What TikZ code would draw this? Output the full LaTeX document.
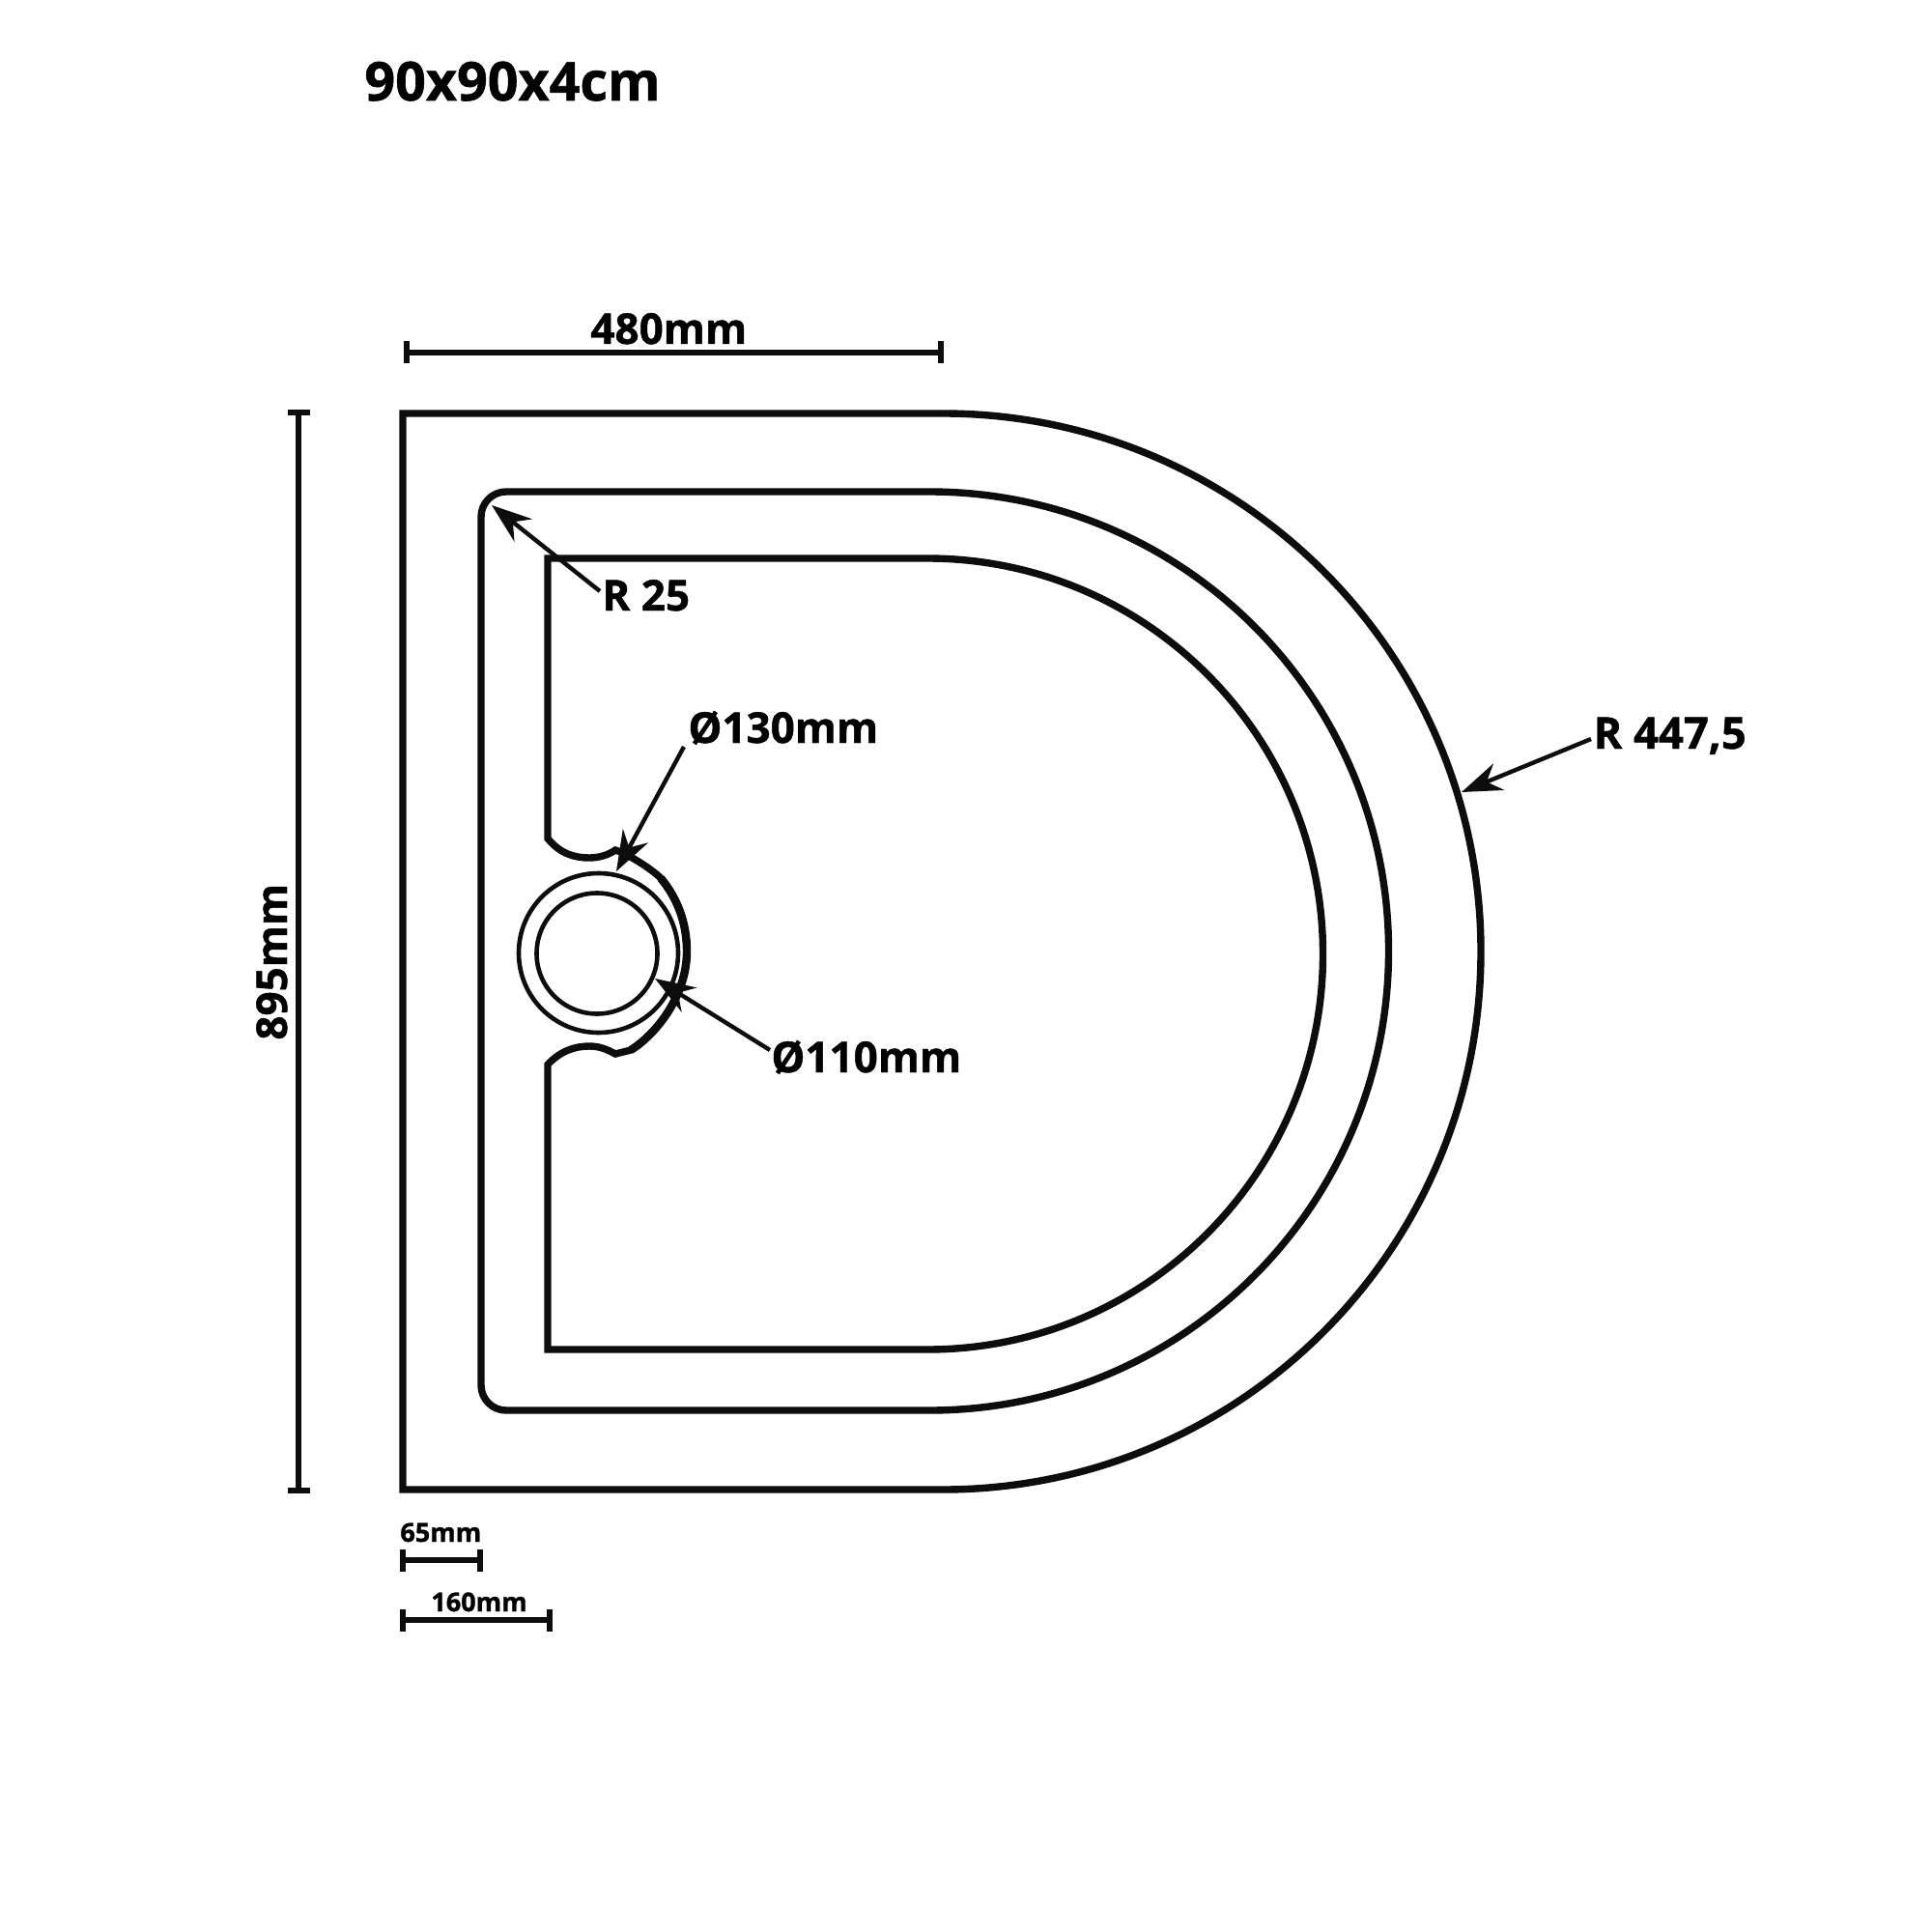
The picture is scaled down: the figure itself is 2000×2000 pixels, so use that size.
\documentclass[tikz,border=0pt]{standalone}
\usepackage{fontspec}
\setmainfont{Open Sans}[BoldFeatures={FakeBold=1}]
\usetikzlibrary{arrows.meta}
\definecolor{ink}{HTML}{0D0D0D}
\tikzset{
outline/.style={draw=ink, line width=3.7pt, miter limit=4},
ring/.style={draw=ink, line width=2.3pt},
dimline/.style={draw=ink, line width=2.6pt, {Bar[width=11.5pt,line width=3pt]}-{Bar[width=11.5pt,line width=3pt]}},
leader/.style={draw=ink, line width=2.2pt, -{Stealth[length=21pt,width=15pt,inset=7pt,line width=0pt]}},
biglabel/.style={inner sep=0pt, anchor=base west, font=\bfseries\fontsize{27.8pt}{30pt}\selectfont},
midlabel/.style={inner sep=0pt, anchor=base west, font=\bfseries\fontsize{22pt}{26pt}\selectfont},
smalllabel/.style={inner sep=0pt, anchor=base west, font=\bfseries\fontsize{13.5pt}{16pt}\selectfont}
}

\begin{document}
\begin{tikzpicture}[x=0.5pt, y=-0.5pt]
	\useasboundingbox (0,0) rectangle (2000,2000);
	\draw[outline] (976,428) -- (417,428) -- (417,1542) -- (976,1542)
		arc[start angle=90, end angle=-90, radius=557];
	\draw[outline] (962,509) [rounded corners=13pt] -- (498,509) -- (498,1460) [sharp corners] -- (962,1460)
		arc[start angle=90, end angle=-90, radius=475.5];
	\draw[outline] (960,578) -- (567,578) -- (567,868)
		.. controls (580,884) and (595,888) .. (610,888)
		.. controls (620,888) and (630,885) .. (637,880)
		.. controls (650,884) and (672,898) .. (683,908)
		.. controls (703,932) and (711,958) .. (711,985)
		.. controls (711,1030) and (680,1070) .. (653,1087)
		-- (637,1091)
		.. controls (628,1086) and (620,1083) .. (610,1083)
		.. controls (595,1083) and (580,1088) .. (567,1102)
		-- (567,1397) -- (960,1397)
		arc[start angle=90, end angle=-90, radius=409.5];
	\draw[outline, line width=4.2pt] (684,909)
		.. controls (703,932) and (711,958) .. (711,985)
		.. controls (711,1030) and (680,1070) .. (653,1087);
	\draw[ring] (619.5,986.5) circle[radius=82.5];
	\draw[ring] (618,987) circle[radius=62.5];

	\node[biglabel] (title) at (377,104) {90x90x4cm};
	\node[midlabel] (widthlabel) at (611,356) {480mm};
	\node[midlabel, rotate=90] (heightlabel) at (297,1077) {895mm};
	\node[midlabel] (cornerlabel) at (623,632) {R 25};
	\node[midlabel, scale=1.03] (outerlabel) at (1649,775) {R 447,5};
	\node[midlabel] (rimlabel) at (712,769) {Ø130mm};
	\node[midlabel] (drainlabel) at (798,1110) {Ø110mm};
	\node[smalllabel] (borderlabel) at (414,1596) {65mm};
	\node[smalllabel] (traylabel) at (446,1668) {160mm};

	\coordinate (widthleft) at (418,365);
	\coordinate (widthright) at (977,365);
	\coordinate (heighttop) at (309,424);
	\coordinate (heightbottom) at (309,1546);
	\coordinate (borderleft) at (414,1615);
	\coordinate (borderright) at (500,1615);
	\coordinate (trayleft) at (414,1677);
	\coordinate (trayright) at (572,1677);
	\draw[dimline] (widthleft) -- (widthright);
	\draw[dimline] (heighttop) -- (heightbottom);
	\draw[dimline] (borderleft) -- (borderright);
	\draw[dimline] (trayleft) -- (trayright);

	\coordinate (cornertail) at (621,612);
	\coordinate (cornertip) at (509,523);
	\coordinate (outertail) at (1647,765);
	\coordinate (outertip) at (1513,820);
	\coordinate (rimtail) at (708,773);
	\coordinate (rimtip) at (638,902);
	\coordinate (draintail) at (797,1087);
	\coordinate (draintip) at (678,1013);
	\draw[leader] (cornertail) -- (cornertip);
	\draw[leader] (outertail) -- (outertip);
	\draw[leader] (rimtail) -- (rimtip);
	\draw[leader] (draintail) -- (draintip);
\end{tikzpicture}
\end{document}
